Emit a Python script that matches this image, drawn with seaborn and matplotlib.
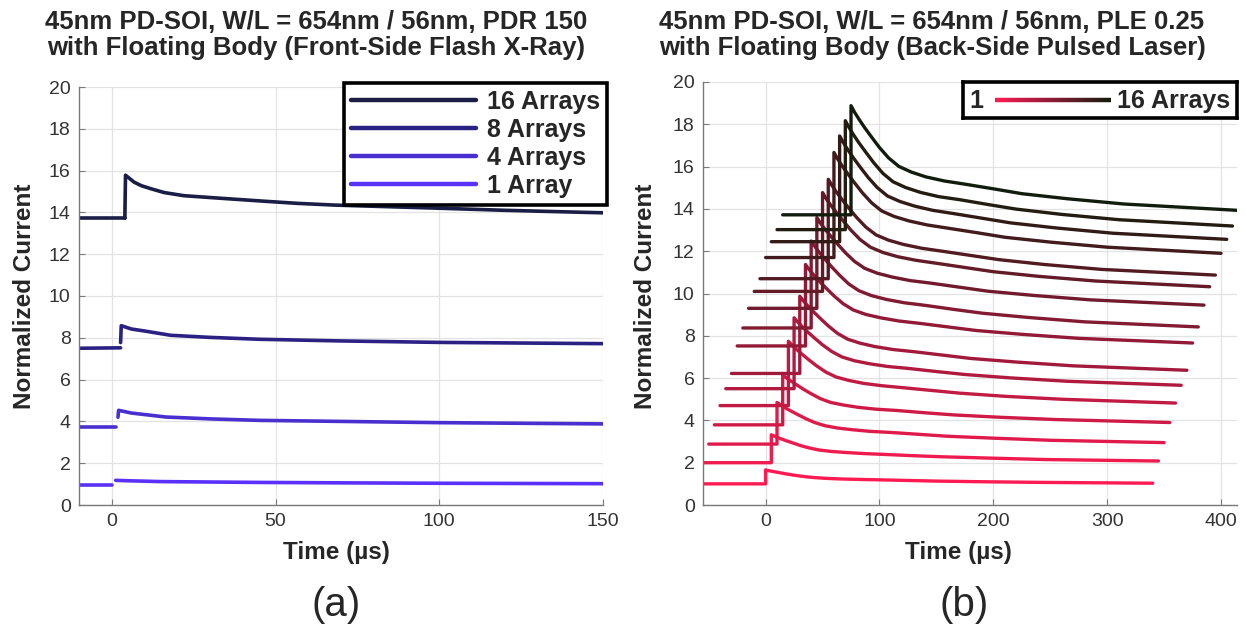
import numpy as np
import pandas as pd
import matplotlib
matplotlib.use("Agg")
import matplotlib.pyplot as plt
import seaborn as sns
from matplotlib.lines import Line2D
from matplotlib.collections import LineCollection
from matplotlib.colors import LinearSegmentedColormap

# ---------------- Panel (a) data: Front-side flash X-ray ----------------
a_labels = ["16 Arrays", "8 Arrays", "4 Arrays", "1 Array"]
a_colors = ["#1a1d45", "#2a2183", "#4a2fd0", "#5a31fa"]

a16_pre_t = [-10, 4.0]
a16_pre_v = [13.72, 13.72]
a16_post_t = [4.0, 4.2, 6.8, 9, 12, 16, 22, 32, 47, 57, 68, 85, 100, 120, 150]
a16_post_v = [13.72, 15.78, 15.45, 15.28, 15.13, 14.95, 14.80, 14.69, 14.53, 14.43, 14.35, 14.27, 14.20, 14.10, 13.98]

a8_pre_t = [-10, 2.7]
a8_pre_v = [7.50, 7.52]
a8_post_t = [2.7, 2.9, 6, 9.8, 18, 30, 45, 70, 100, 150]
a8_post_v = [7.77, 8.58, 8.42, 8.33, 8.12, 8.02, 7.93, 7.85, 7.78, 7.72]

a4_pre_t = [-10, 1.2]
a4_pre_v = [3.72, 3.72]
a4_post_t = [1.9, 2.1, 6, 16.5, 30, 45, 70, 100, 150]
a4_post_v = [4.20, 4.53, 4.40, 4.21, 4.12, 4.05, 4.00, 3.94, 3.88]

a1_pre_t = [-10, 0.2]
a1_pre_v = [0.97, 0.97]
a1_post_t = [1.2, 5, 15, 30, 45, 70, 100, 150]
a1_post_v = [1.18, 1.16, 1.12, 1.10, 1.08, 1.06, 1.04, 1.02]

a_xticks = [0, 50, 100, 150]
a_yticks = list(range(0, 21, 2))

# ---------------- Panel (b) data: Back-side pulsed laser ----------------
b_n_arrays = list(range(1, 17))
b_start_t = [-60, -55, -50, -45, -40, -35, -30, -25, -20, -15, -10, -5, 0, 5, 10, 15]
b_jump_t = [0, 5, 10, 15, 20, 25, 30, 35, 40, 45, 50, 55, 60, 65, 70, 75]
b_base = [1.00, 2.00, 2.88, 3.79, 4.70, 5.50, 6.22, 7.52, 8.37, 9.30,
          10.10, 10.70, 11.70, 12.45, 13.02, 13.72]
# times after each jump at which the decay values below were read
b_rel_t = [0, 3, 7, 12, 18, 25, 33, 42, 53, 66, 82, 100, 125, 150, 190, 240, 340]
b_decay = [
    [1.66, 1.62, 1.58, 1.53, 1.47, 1.41, 1.35, 1.30, 1.26, 1.23, 1.21, 1.19, 1.16, 1.13, 1.10, 1.07, 1.03],
    [3.32, 3.25, 3.16, 3.06, 2.95, 2.82, 2.70, 2.60, 2.53, 2.48, 2.43, 2.39, 2.33, 2.28, 2.22, 2.15, 2.08],
    [4.85, 4.74, 4.60, 4.45, 4.28, 4.09, 3.90, 3.75, 3.64, 3.56, 3.48, 3.43, 3.34, 3.25, 3.16, 3.06, 2.95],
    [6.16, 6.02, 5.87, 5.69, 5.48, 5.26, 5.03, 4.85, 4.73, 4.62, 4.53, 4.47, 4.36, 4.26, 4.15, 4.04, 3.90],
    [7.74, 7.57, 7.36, 7.13, 6.86, 6.57, 6.28, 6.05, 5.89, 5.75, 5.64, 5.55, 5.42, 5.29, 5.14, 5.00, 4.82],
    [8.85, 8.66, 8.44, 8.18, 7.89, 7.57, 7.26, 7.00, 6.82, 6.68, 6.55, 6.46, 6.31, 6.17, 6.01, 5.85, 5.66],
    [9.87, 9.66, 9.42, 9.14, 8.82, 8.47, 8.12, 7.84, 7.65, 7.49, 7.35, 7.25, 7.09, 6.93, 6.76, 6.58, 6.37],
    [11.37, 11.15, 10.89, 10.59, 10.26, 9.89, 9.52, 9.22, 9.01, 8.85, 8.70, 8.59, 8.42, 8.25, 8.07, 7.88, 7.66],
    [12.48, 12.24, 11.95, 11.63, 11.26, 10.86, 10.45, 10.13, 9.90, 9.72, 9.56, 9.44, 9.25, 9.07, 8.87, 8.66, 8.42],
    [13.59, 13.34, 13.05, 12.72, 12.35, 11.93, 11.52, 11.19, 10.96, 10.78, 10.61, 10.49, 10.30, 10.11, 9.91, 9.70, 9.45],
    [14.77, 14.50, 14.19, 13.84, 13.44, 12.99, 12.55, 12.19, 11.94, 11.74, 11.57, 11.43, 11.23, 11.03, 10.81, 10.59, 10.32],
    [15.40, 15.13, 14.81, 14.45, 14.04, 13.59, 13.14, 12.77, 12.52, 12.32, 12.14, 12.00, 11.80, 11.60, 11.37, 11.14, 10.87],
    [16.67, 16.38, 16.05, 15.67, 15.24, 14.76, 14.29, 13.90, 13.64, 13.43, 13.24, 13.09, 12.88, 12.66, 12.43, 12.19, 11.90],
    [17.45, 17.16, 16.81, 16.42, 15.98, 15.49, 15.01, 14.61, 14.35, 14.13, 13.93, 13.78, 13.56, 13.34, 13.10, 12.85, 12.56],
    [18.17, 17.87, 17.52, 17.12, 16.68, 16.18, 15.68, 15.28, 15.01, 14.78, 14.58, 14.44, 14.21, 13.99, 13.74, 13.49, 13.19],
    [18.88, 18.58, 18.24, 17.84, 17.40, 16.90, 16.41, 16.01, 15.74, 15.51, 15.32, 15.17, 14.95, 14.72, 14.48, 14.23, 13.93],
]
b_xticks = [0, 100, 200, 300, 400]
b_yticks = list(range(0, 21, 2))

# ---------------- Styling ----------------
sns.set_theme(style="ticks")
plt.rcParams["font.family"] = ["Liberation Sans", "DejaVu Sans"]

W, H = 1246, 634
fig = plt.figure(figsize=(W / 100, H / 100), dpi=100)

def fx(px):
    return px / W

def fy(py):
    return 1 - py / H

axA = fig.add_axes([fx(79), fy(505), fx(603) - fx(79), fy(87) - fy(505)])
axB = fig.add_axes([fx(703), fy(505), fx(1237) - fx(703), fy(82) - fy(505)])

def style_axis(ax):
    for s in ["top", "right"]:
        ax.spines[s].set_visible(False)
    for s in ["left", "bottom"]:
        ax.spines[s].set_color("#7a7a7a")
        ax.spines[s].set_linewidth(1.0)
    ax.grid(True, color="#e3e3e3", linewidth=0.9)
    ax.set_axisbelow(True)
    ax.tick_params(direction="in", length=4, width=0.8, color="#7a7a7a",
                   labelsize=14, labelcolor="#333333", pad=6)
    ax.set_xlabel("")
    ax.set_ylabel("")

# ---- Panel (a)
a_segments = [
    (a16_pre_t, a16_pre_v, 0), (a16_post_t, a16_post_v, 0),
    (a8_pre_t, a8_pre_v, 1), (a8_post_t, a8_post_v, 1),
    (a4_pre_t, a4_pre_v, 2), (a4_post_t, a4_post_v, 2),
    (a1_pre_t, a1_pre_v, 3), (a1_post_t, a1_post_v, 3),
]
for t, v, i in a_segments:
    sns.lineplot(x=t, y=v, ax=axA, color=a_colors[i], linewidth=2.6,
                 sort=False, estimator=None)
axA.set_xlim(-10, 150)
axA.set_ylim(0, 20)
axA.set_xticks(a_xticks)
axA.set_yticks(a_yticks)
style_axis(axA)

handles = [Line2D([0], [0], color=c, linewidth=3.2) for c in a_colors]
leg = axA.legend(handles, a_labels, loc="upper right",
                 bbox_to_anchor=(fx(607), fy(83)), bbox_transform=fig.transFigure,
                 borderaxespad=0, frameon=True, fancybox=False,
                 prop={"weight": "bold", "size": 18},
                 handlelength=5.0, handletextpad=0.45, labelspacing=0.16,
                 borderpad=0.28)
leg.get_frame().set_edgecolor("black")
leg.get_frame().set_linewidth(2.6)
leg.get_frame().set_alpha(1)

# ---- Panel (b)
cmap = LinearSegmentedColormap.from_list("b", ["#ff1a52", "#8a1a35", "#121c0c"])
b_colors = [cmap(i / 15) for i in range(16)]
rows = []
for k in range(16):
    ts = [b_start_t[k], b_jump_t[k]] + [b_jump_t[k] + r for r in b_rel_t]
    vs = [b_base[k], b_base[k]] + b_decay[k]
    for t, v in zip(ts, vs):
        rows.append({"t": t, "v": v, "n": b_n_arrays[k]})
dfB = pd.DataFrame(rows)
sns.lineplot(data=dfB, x="t", y="v", hue="n", palette=b_colors, ax=axB,
             linewidth=2.4, sort=False, estimator=None, legend=False)
axB.set_xlim(-55, 414)
axB.set_ylim(0, 20)
axB.set_xticks(b_xticks)
axB.set_yticks(b_yticks)
style_axis(axB)

# gradient legend box
legax = fig.add_axes([fx(963), fy(118), fx(1237) - fx(963), fy(82) - fy(118)])
legax.set_xlim(0, 1)
legax.set_ylim(0, 1)
legax.set_xticks([])
legax.set_yticks([])
legax.set_facecolor("white")
for s in legax.spines.values():
    s.set_color("black")
    s.set_linewidth(2.6)
    s.set_visible(True)
gx = np.linspace(0.115, 0.54, 60)
segs = [[(gx[i], 0.5), (gx[i + 1], 0.5)] for i in range(len(gx) - 1)]
lc = LineCollection(segs, colors=[cmap(i / (len(segs) - 1)) for i in range(len(segs))],
                    linewidths=3.2)
legax.add_collection(lc)
legax.text(0.025, 0.47, "1", fontsize=18, fontweight="bold", va="center", ha="left")
legax.text(0.562, 0.47, "16 Arrays", fontsize=18, fontweight="bold", va="center", ha="left")

# ---- Titles and labels
fig.text(fx(316), fy(35), "45nm PD-SOI, W/L = 654nm / 56nm, PDR 150\nwith Floating Body (Front-Side Flash X-Ray)",
         ha="center", va="center", fontsize=18.5, fontweight="bold", linespacing=1.15)
fig.text(fx(932), fy(35), "45nm PD-SOI, W/L = 654nm / 56nm, PLE 0.25\nwith Floating Body (Back-Side Pulsed Laser)",
         ha="center", va="center", fontsize=18.5, fontweight="bold", linespacing=1.15)
fig.text(fx(25), fy(296), "Normalized Current", rotation=90, ha="center", va="center",
         fontsize=17.5, fontweight="bold")
fig.text(fx(645), fy(296), "Normalized Current", rotation=90, ha="center", va="center",
         fontsize=17.5, fontweight="bold")
fig.text(fx(336), fy(553), "Time (µs)", ha="center", va="center", fontsize=17.5, fontweight="bold")
fig.text(fx(958), fy(553), "Time (µs)", ha="center", va="center", fontsize=17.5, fontweight="bold")
fig.text(fx(336), fy(605), "(a)", ha="center", va="center", fontsize=29)
fig.text(fx(964), fy(605), "(b)", ha="center", va="center", fontsize=29)

fig.savefig("out.png", dpi=100, facecolor="white")
